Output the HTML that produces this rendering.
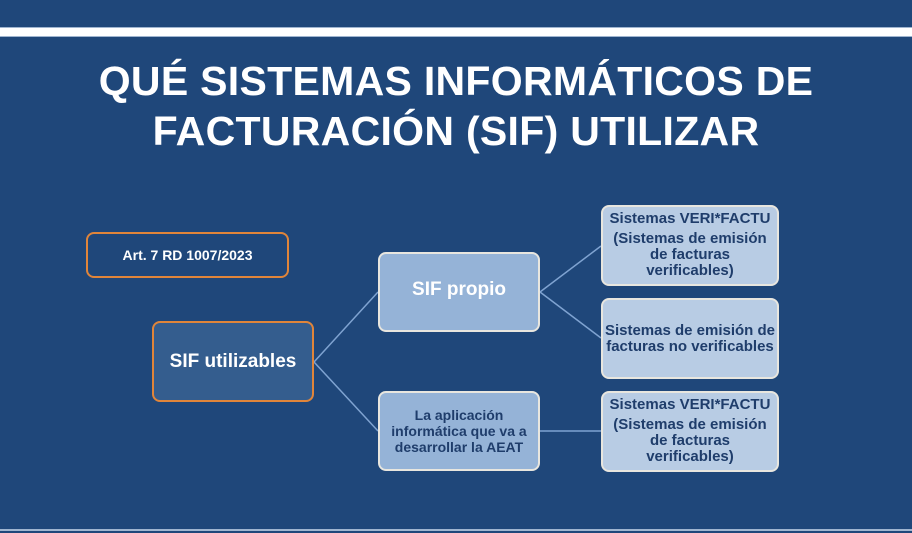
<!DOCTYPE html>
<html><head><meta charset="utf-8"><style>
body{margin:0;width:912px;height:533px;overflow:hidden;background:#1f477a;font-family:"Liberation Sans",sans-serif;position:relative}
.band{position:absolute;left:0;top:27px;width:912px;height:8px;background:#fff;border-top:1px solid #9fb5d0;border-bottom:1px solid #9fb5d0}
.bot{position:absolute;left:0;top:529px;width:912px;height:2px;background:#9fb5d0}
.t{position:absolute;left:0;width:912px;text-align:center;color:#fff;font-weight:bold;font-size:41px;line-height:48px;letter-spacing:0.3px}
.b{position:absolute;box-sizing:border-box;border-radius:8px;display:flex;align-items:center;justify-content:center;text-align:center;font-weight:bold}
.r{background:#b8cce4;border:2px solid #e8e6df;color:#1f3d6b;font-size:15px;line-height:16px}
</style></head><body>
<div class="band"></div><div class="bot"></div>
<div class="t" style="top:57px">QUÉ SISTEMAS INFORMÁTICOS DE</div>
<div class="t" style="top:107px">FACTURACIÓN (SIF) UTILIZAR</div>
<svg style="position:absolute;left:0;top:0" width="912" height="533"><g stroke="#7fa3d1" stroke-width="1.5" fill="none">
<line x1="314" y1="362" x2="378" y2="292"/><line x1="314" y1="362" x2="378" y2="431"/>
<line x1="540" y1="292" x2="601" y2="246"/><line x1="540" y1="292" x2="601" y2="338"/>
<line x1="540" y1="431" x2="601" y2="431"/></g></svg>
<div class="b" style="left:86px;top:232px;width:203px;height:46px;border:2px solid #e0853a;color:#fff;font-size:14px">Art. 7 RD 1007/2023</div>
<div class="b" style="left:152px;top:321px;width:162px;height:81px;border:2px solid #e0853a;background:#345d8e;color:#fff;font-size:19px">SIF utilizables</div>
<div class="b" style="left:378px;top:252px;width:162px;height:80px;border:2px solid #e8e6df;background:#95b3d7;color:#fff;font-size:19px;padding-bottom:4px">SIF propio</div>
<div class="b" style="left:378px;top:391px;width:162px;height:80px;border:2px solid #e8e6df;background:#95b3d7;color:#1f3d6b;font-size:14px;line-height:16px">La aplicación<br>informática que va a<br>desarrollar la AEAT</div>
<div class="b r" style="left:601px;top:205px;width:178px;height:81px;align-items:flex-start;padding-top:4px"><div>Sistemas VERI*FACTU<div style="height:4px"></div>(Sistemas de emisión<br>de facturas<br>verificables)</div></div>
<div class="b r" style="left:601px;top:298px;width:178px;height:81px">Sistemas de emisión de<br>facturas no verificables</div>
<div class="b r" style="left:601px;top:391px;width:178px;height:81px;align-items:flex-start;padding-top:4px"><div>Sistemas VERI*FACTU<div style="height:4px"></div>(Sistemas de emisión<br>de facturas<br>verificables)</div></div>
</body></html>
